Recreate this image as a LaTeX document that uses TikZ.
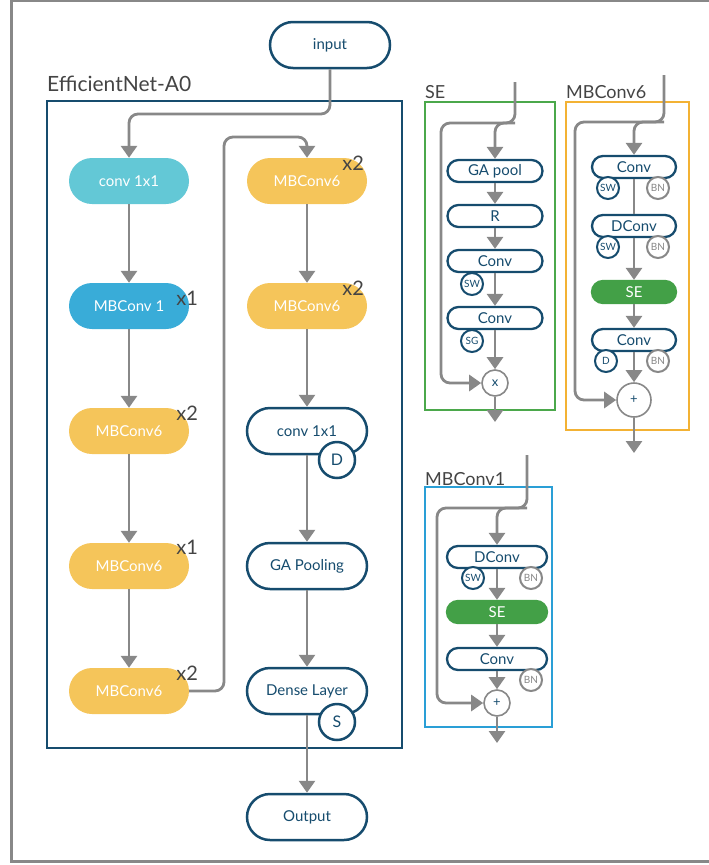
\documentclass[tikz,border=0pt]{standalone}
\usepackage{fontspec}
\setmainfont{Lato}
\usetikzlibrary{positioning,arrows.meta}

\begin{document}
\begin{tikzpicture}[x=1pt,y=-1pt]
%colors
	\definecolor{navy}{RGB}{22,76,110}
	\definecolor{flowgray}{RGB}{136,136,136}
	\definecolor{txtgray}{RGB}{68,68,68}
	\definecolor{cyanfill}{RGB}{99,200,214}
	\definecolor{bluefill}{RGB}{57,172,216}
	\definecolor{orangefill}{RGB}{245,197,90}
	\definecolor{greenfill}{RGB}{67,160,71}
	\definecolor{seframe}{RGB}{75,168,75}
	\definecolor{sixframe}{RGB}{243,178,52}
	\definecolor{oneframe}{RGB}{42,159,214}

%styles
	\tikzset{
	block/.style={rounded corners=23pt, minimum width=120pt, minimum height=46pt, inner sep=0pt, font=\fontsize{15}{18}\selectfont},
	layer/.style={block, draw=navy, line width=2.5pt, fill=white, text=navy},
	filled/.style={block, fill=#1, text=white},
	small/.style={rounded corners=11pt, minimum width=95pt, minimum height=22pt, inner sep=0pt, draw=navy, line width=2.3pt, fill=white, text=navy, font=\fontsize{15}{17}\selectfont},
	sefill/.style={small, draw=greenfill, fill=greenfill, text=white},
	tag/.style={circle, draw=navy, line width=2pt, fill=white, text=navy, inner sep=0pt, minimum size=22pt, font=\fontsize{10}{11}\selectfont},
	bntag/.style={tag, draw=flowgray, text=flowgray},
	bigtag/.style={tag, minimum size=36pt, line width=2.5pt, font=\fontsize{16}{18}\selectfont},
	op/.style={circle, draw=flowgray, line width=1.6pt, fill=white, text=navy, inner sep=0pt, minimum size=#1, font=\fontsize{13}{14}\selectfont},
	line/.style={draw=flowgray, line width=2.8pt, rounded corners=9pt},
	flow/.style={line, -{Triangle[width=16pt,length=12pt]}},
	rep/.style={text=txtgray, inner sep=0pt, font=\fontsize{20}{22}\selectfont},
	title/.style={text=txtgray, anchor=base west, inner sep=0pt, font=\fontsize{18}{22}\selectfont}}

	\useasboundingbox (0,0) rectangle (709,865);
	\draw[flowgray, line width=3pt] (11.5,0.5) rectangle (740,861.5);

%EfficientNet
	\node[layer] (input) at (330,45) {input};
	\node[title, font=\fontsize{21}{24}\selectfont] (effname) at (47,91) {EfficientNet-A0};
	\draw[navy, line width=2.5pt] (47,101) rectangle (402,748);

	%left column
	\node[filled=cyanfill] (conv1) at (129,181) {conv 1x1};
	\node[filled=bluefill] (mb1) at (129,306) {MBConv 1};
	\node[filled=orangefill] (mb2) at (129,431) {MBConv6};
	\node[filled=orangefill] (mb3) at (129,566) {MBConv6};
	\node[filled=orangefill] (mb4) at (129,691) {MBConv6};

	%right column
	\node[filled=orangefill] (mb5) at (307,181) {MBConv6};
	\node[filled=orangefill] (mb6) at (307,306) {MBConv6};
	\node[layer] (conv2) at (307,431) {conv 1x1};
	\node[layer] (gap) at (307,566) {GA Pooling};
	\node[layer] (dense) at (307,691) {Dense Layer};
	\node[layer] (output) at (307,817) {Output};
	\node[bigtag] (drop) at (337,460) {D};
	\node[bigtag] (soft) at (337,722) {S};

	%repeats
	\node[rep] (rep1) at ([xshift=-2pt,yshift=-16pt]mb1.north east) {x1};
	\foreach \n/\r in {mb2/2,mb3/1,mb4/2}
		\node[rep] (rep-\n) at ([xshift=-2pt,yshift=-5pt]\n.north east) {x\r};
	\foreach \n in {mb5,mb6}
		\node[rep] (rep-\n) at ([xshift=-14pt,yshift=-5pt]\n.north east) {x2};

	%arrows
	\coordinate (split) at (330,114);
	\coordinate (turn) at (224,137);
	\draw[flow] (input.south) -- (split) -| (conv1.north);
	\draw[flow] (mb4.east) -| (turn) -| (mb5.north);
	\foreach \a/\b in {conv1/mb1,mb1/mb2,mb2/mb3,mb3/mb4,mb5/mb6,mb6/conv2,conv2/gap,gap/dense,dense/output}
		\draw[flow] (\a) -- (\b);

%SE
	\draw[seframe, line width=2pt] (425,102) rectangle (555,410);
	\node[title] (se-name) at (425,98) {SE};
	\node[small] (pool) at (495,171) {GA pool};
	\node[small] (relu) at (495,216) {R};
	\node[small] (se-c1) at (495,261) {Conv};
	\node[small] (se-c2) at (495,318) {Conv};
	\node[tag] (se-sw) at (472,284) {SW};
	\node[tag] (se-sg) at (472,341) {SG};
	\node[op=26pt] (mul) at (495,383) {x};

	\coordinate (se-in) at (515,82);
	\coordinate (se-split) at (515,123);
	\coordinate (se-left) at (441,123);
	\coordinate (se-out) at (495,422);
	\draw[flow] (se-in) -- (se-split) -| (pool.north);
	\draw[flow] (se-split) -- (se-left) |- (mul.west);
	\foreach \a/\b in {pool/relu,relu/se-c1,se-c1/se-c2,se-c2/mul,mul/se-out}
		\draw[flow] (\a) -- (\b);

%MBConv6
	\draw[sixframe, line width=2pt] (566,102) rectangle (689,430);
	\node[title] (six-name) at (566,98) {MBConv6};
	\node[small, minimum width=84pt] (six-c1) at (634,167) {Conv};
	\node[small, minimum width=84pt] (six-dc) at (634,226) {DConv};
	\node[sefill, minimum width=84pt] (six-se) at (634,292) {SE};
	\node[small, minimum width=84pt] (six-c2) at (634,340) {Conv};
	\node[tag] (six-sw1) at (608,188) {SW};
	\node[bntag] (six-bn1) at (658,188) {BN};
	\node[tag] (six-sw2) at (608,247) {SW};
	\node[bntag] (six-bn2) at (658,247) {BN};
	\node[tag] (six-d) at (606,361) {D};
	\node[bntag] (six-bn3) at (658,361) {BN};
	\node[op=34pt] (six-add) at (634,400) {+};

	\coordinate (six-in) at (664,75);
	\coordinate (six-split) at (664,122);
	\coordinate (six-left) at (575,122);
	\coordinate (six-out) at (634,453);
	\draw[flow] (six-in) -- (six-split) -| (six-c1.north);
	\draw[flow] (six-split) -- (six-left) |- (six-add.west);
	\draw[line] (six-c1) -- (six-dc);
	\foreach \a/\b in {six-dc/six-se,six-se/six-c2,six-c2/six-add,six-add/six-out}
		\draw[flow] (\a) -- (\b);

%MBConv1
	\draw[oneframe, line width=2pt] (425,487) rectangle (552,727);
	\node[title] (one-name) at (425,485) {MBConv1};
	\node[small, minimum width=100pt] (one-dc) at (497,557) {DConv};
	\node[sefill, minimum width=100pt] (one-se) at (497,612) {SE};
	\node[small, minimum width=100pt] (one-c) at (497,659) {Conv};
	\node[tag] (one-sw) at (473,578) {SW};
	\node[bntag] (one-bn1) at (531,578) {BN};
	\node[bntag] (one-bn2) at (531,680) {BN};
	\node[op=26pt] (one-add) at (497,703) {+};

	\coordinate (one-in) at (527,455);
	\coordinate (one-split) at (527,508);
	\coordinate (one-left) at (437,508);
	\coordinate (one-out) at (497,743);
	\draw[flow] (one-in) -- (one-split) -| (one-dc.north);
	\draw[flow] (one-split) -- (one-left) |- (one-add.west);
	\foreach \a/\b in {one-dc/one-se,one-se/one-c,one-c/one-add,one-add/one-out}
		\draw[flow] (\a) -- (\b);

\end{tikzpicture}
\end{document}
